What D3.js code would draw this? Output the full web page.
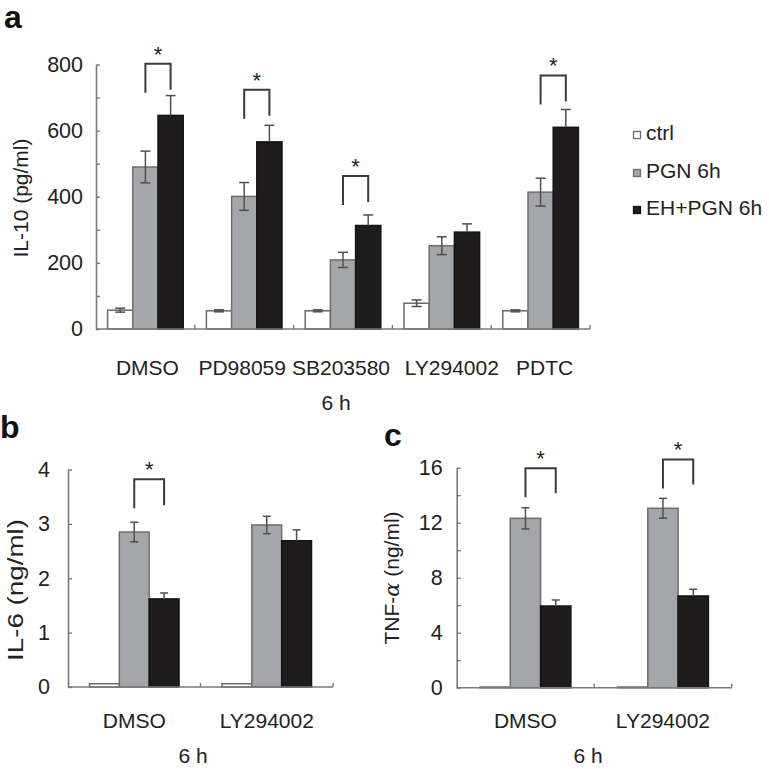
<!DOCTYPE html>
<html>
<head>
<meta charset="utf-8">
<script src="https://cdn.jsdelivr.net/npm/d3@7"></script>
<style>
  html, body { margin: 0; padding: 0; background: #fff; }
  svg { display: block; font-family: "Liberation Sans", Arial, Helvetica, sans-serif; }
</style>
</head>
<body>
<script>
// ---------------- data ----------------
const seriesNames = ["ctrl", "PGN 6h", "EH+PGN 6h"];

// panel a : IL-10 (pg/ml)
const groupsA   = ["DMSO", "PD98059", "SB203580", "LY294002", "PDTC"];
const ctrlA     = [57, 55, 55, 78, 55];
const ctrlErrA  = [6, 3, 3, 10, 3];
const pgnA      = [490, 401, 209, 252, 414];
const pgnErrA   = [48, 42, 23, 27, 42];
const ehA       = [646, 566, 313, 293, 610];
const ehErrA    = [60, 50, 32, 25, 54];
const bracketA  = [802, 724, 463, null, 767];
const majorTicksA = [0, 200, 400, 600, 800];
const minorTicksA = [100, 300, 500, 700];

// panel b : IL-6 (ng/ml)
const groupsB   = ["DMSO", "LY294002"];
const ctrlB     = [0.06, 0.06];
const ctrlErrB  = [0, 0];
const pgnB      = [2.85, 2.98];
const pgnErrB   = [0.18, 0.16];
const ehB       = [1.62, 2.69];
const ehErrB    = [0.11, 0.20];
const bracketB  = [3.82, null];
const majorTicksB = [0, 1, 2, 3, 4];
const minorTicksB = [];

// panel c : TNF-α (ng/ml)
const groupsC   = ["DMSO", "LY294002"];
const ctrlC     = [0.05, 0.05];
const ctrlErrC  = [0, 0];
const pgnC      = [12.32, 13.05];
const pgnErrC   = [0.77, 0.72];
const ehC       = [5.94, 6.67];
const ehErrC    = [0.44, 0.49];
const bracketC  = [15.96, 16.6];
const majorTicksC = [0, 4, 8, 12, 16];
const minorTicksC = [2, 6, 10, 14];

// ---------------- styles ----------------
const fills   = ["#ffffff", "#a4a6a9", "#1e1c1d"];
const strokes = ["#6a6a6a", "#6e6e6e", "#141414"];
const TEXT = "#222";
const AXIS = "#7a7a7a";

const svg = d3.select("body").append("svg")
  .attr("width", 769).attr("height", 769);

function panel(o) {
  const g = svg.append("g");
  const x0 = d3.scaleBand().domain(o.groups).range(o.xr).paddingInner(0).paddingOuter(0);
  const x1 = d3.scaleBand().domain(seriesNames).range([0, x0.bandwidth()])
    .paddingInner(0).paddingOuter(o.po);
  const y = d3.scaleLinear().domain(o.yd).range(o.yr);
  const bw = x1.bandwidth();

  // y axis
  const yAxis = d3.axisLeft(y)
    .tickValues(o.major.concat(o.minor))
    .tickSize(-4).tickSizeOuter(0).tickPadding(o.tickPad)
    .tickFormat(d => o.major.includes(d) ? d3.format("d")(d) : "");
  const ya = g.append("g").attr("transform", `translate(${o.xr[0]},0)`).call(yAxis);
  ya.select(".domain").attr("stroke", AXIS).attr("stroke-width", 1.6);
  ya.selectAll(".tick line").attr("stroke", AXIS).attr("stroke-width", 1.4);
  ya.selectAll(".tick text").attr("fill", TEXT).attr("font-size", 21.5)
    .attr("font-family", null);

  // bars
  o.series.forEach((s, si) => {
    g.append("g").selectAll("rect").data(o.groups).join("rect")
      .attr("x", (d) => x0(d) + x1(seriesNames[si]))
      .attr("y", (d, i) => y(s.v[i]))
      .attr("width", bw)
      .attr("height", (d, i) => y(0) - y(s.v[i]))
      .attr("fill", fills[si])
      .attr("stroke", strokes[si])
      .attr("stroke-width", 1.5);
  });

  // error bars
  o.series.forEach((s, si) => {
    const eg = g.append("g").attr("stroke", "#505050").attr("stroke-width", 1.5).attr("fill", "none");
    o.groups.forEach((gr, i) => {
      if (!s.e[i]) return;
      const cx = x0(gr) + x1(seriesNames[si]) + bw / 2;
      const top = y(s.v[i] + s.e[i]);
      const mid = y(s.v[i]);
      const bot = y(s.v[i] - s.e[i]);
      eg.append("line").attr("x1", cx).attr("x2", cx).attr("y1", top).attr("y2", mid);
      eg.append("line").attr("x1", cx - o.cap / 2).attr("x2", cx + o.cap / 2).attr("y1", top).attr("y2", top);
      if (si !== 2) {
        eg.append("line").attr("x1", cx).attr("x2", cx).attr("y1", mid).attr("y2", bot);
        eg.append("line").attr("x1", cx - o.cap / 2).attr("x2", cx + o.cap / 2).attr("y1", bot).attr("y2", bot);
      }
    });
  });

  // x axis line + group ticks (inside)
  const xa = g.append("g").attr("stroke", AXIS).attr("stroke-width", 1.6);
  xa.append("line").attr("x1", o.xr[0]).attr("x2", o.xr[1]).attr("y1", y(0)).attr("y2", y(0));
  o.groups.forEach(gr => {
    const xe = x0(gr) + x0.bandwidth();
    xa.append("line").attr("x1", xe).attr("x2", xe).attr("y1", y(0)).attr("y2", y(0) - 4)
      .attr("stroke-width", 1.4);
  });

  // x labels
  g.append("g").selectAll("text").data(o.groups).join("text")
    .attr("x", d => x0(d) + x0.bandwidth() / 2 + (o.labelShift ? o.labelShift[o.groups.indexOf(d)] : 0))
    .attr("y", o.labelY)
    .attr("text-anchor", "middle").attr("font-size", 21).attr("fill", TEXT)
    .text(d => d);
  g.append("text").attr("x", o.hX).attr("y", o.hY).attr("text-anchor", "middle")
    .attr("font-size", 21).attr("fill", TEXT).text("6 h");

  // significance brackets
  o.bracket.forEach((b, i) => {
    if (b == null) return;
    const gr = o.groups[i];
    const xl = x0(gr) + x1(seriesNames[1]) + bw / 2;
    const xr = x0(gr) + x1(seriesNames[2]) + bw / 2;
    const yt = y(b);
    g.append("path")
      .attr("d", `M${xl},${yt + o.legL}V${yt}H${xr}V${yt + o.legR}`)
      .attr("fill", "none").attr("stroke", "#3a3a3a").attr("stroke-width", 2);
    g.append("text").attr("x", (xl + xr) / 2).attr("y", yt - 2)
      .attr("text-anchor", "middle").attr("font-size", 22).attr("fill", TEXT).text("*");
  });

  // y label
  const yl = g.append("text")
    .attr("transform", `translate(${o.ylX},${o.ylY}) rotate(-90)`)
    .attr("text-anchor", "middle").attr("font-size", o.ylSize || 21).attr("fill", TEXT);
  o.ylabel(yl);
  if (o.ylLen) yl.attr("textLength", o.ylLen).attr("lengthAdjust", "spacingAndGlyphs");

  // panel letter
  g.append("text").attr("x", o.letterX).attr("y", o.letterY)
    .attr("font-size", 32).attr("font-weight", "bold").attr("fill", "#111").text(o.letter);
}

panel({
  groups: groupsA,
  series: [{v: ctrlA, e: ctrlErrA}, {v: pgnA, e: pgnErrA}, {v: ehA, e: ehErrA}],
  xr: [96, 590], po: 0.46, yd: [0, 800], yr: [329, 64.5],
  major: majorTicksA, minor: minorTicksA, tickPad: 13, cap: 10,
  labelY: 375, hX: 336, hY: 410,
  labelShift: [2, -2, -2, 10, 4],
  bracket: bracketA, legL: 29, legR: 26,
  ylX: 28, ylY: 198, ylabel: t => t.text("IL-10 (pg/ml)"),
  letter: "a", letterX: 4, letterY: 28
});

panel({
  groups: groupsB,
  series: [{v: ctrlB, e: ctrlErrB}, {v: pgnB, e: pgnErrB}, {v: ehB, e: ehErrB}],
  xr: [68, 333], po: 0.72, yd: [0, 4], yr: [687, 469.5],
  major: majorTicksB, minor: minorTicksB, tickPad: 18, cap: 8,
  labelY: 728, hX: 193, hY: 763,
  bracket: bracketB, legL: 29, legR: 26,
  ylX: 23, ylY: 590, ylSize: 22, ylLen: 142, ylabel: t => t.text("IL-6 (ng/ml)"),
  letter: "b", letterX: 0, letterY: 438
});

panel({
  groups: groupsC,
  series: [{v: ctrlC, e: ctrlErrC}, {v: pgnC, e: pgnErrC}, {v: ehC, e: ehErrC}],
  xr: [456.7, 731.7], po: 0.77, yd: [0, 16], yr: [687.7, 467.7],
  major: majorTicksC, minor: minorTicksC, tickPad: 14, cap: 8,
  labelY: 728, hX: 588, hY: 763,
  bracket: bracketC, legL: 29, legR: 25,
  ylX: 399, ylY: 578,
  ylabel: t => { t.append("tspan").text("TNF-"); t.append("tspan").attr("font-style", "italic").attr("font-family", "'DejaVu Serif', serif").text("α"); t.append("tspan").text(" (ng/ml)"); },
  letter: "c", letterX: 384, letterY: 446
});

// legend
const legend = svg.append("g").attr("transform", "translate(633,0)");
const legendY = [140, 178, 215];
seriesNames.forEach((s, i) => {
  legend.append("rect").attr("x", 0.5).attr("y", legendY[i] - 8.5).attr("width", 7).attr("height", 7)
    .attr("fill", fills[i]).attr("stroke", strokes[i]).attr("stroke-width", 1.3);
  legend.append("text").attr("x", 13).attr("y", legendY[i]).attr("font-size", 21).attr("fill", TEXT).text(s);
});
</script>
</body>
</html>
